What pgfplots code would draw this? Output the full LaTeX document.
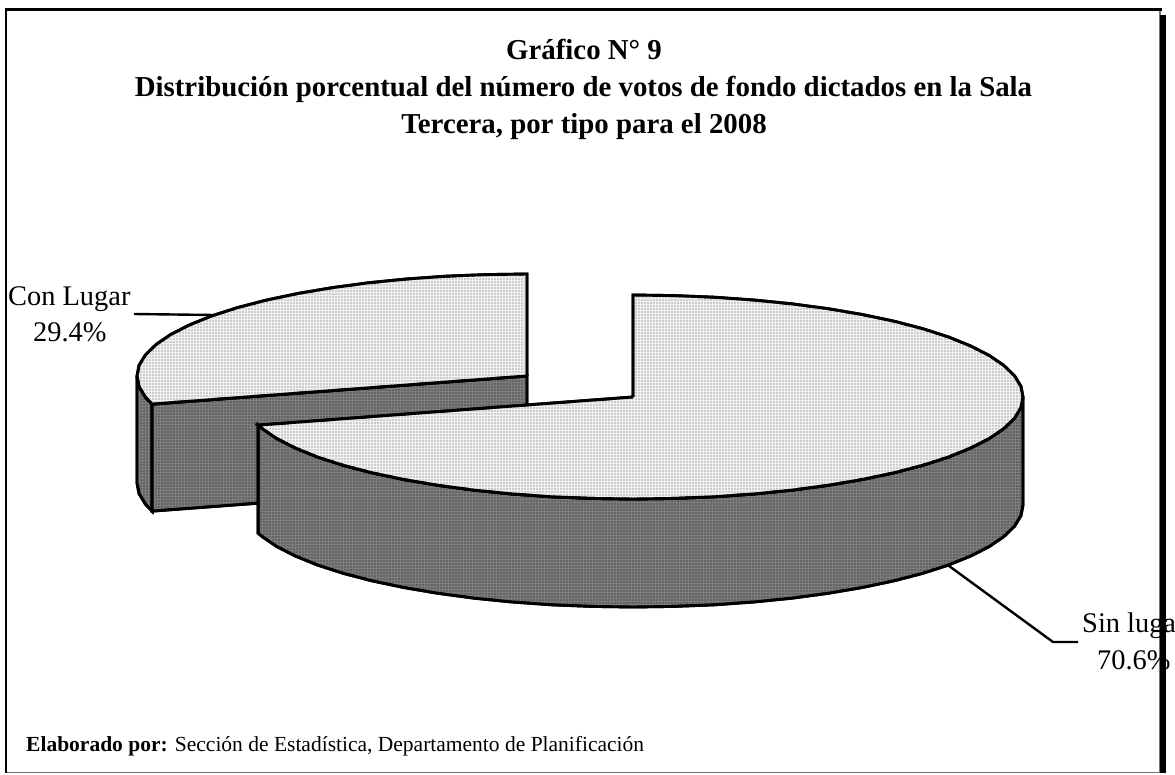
\documentclass[border=0pt]{standalone}
\usepackage{fontspec}
\setmainfont{Liberation Serif}
\usepackage{pgfplots}
\usetikzlibrary{patterns}
\pgfplotsset{compat=1.18}
\definecolor{topgray}{gray}{0.95}
\definecolor{topdots}{gray}{0.80}
\definecolor{wallgray}{gray}{0.49}
\definecolor{walldots}{gray}{0.39}
\definecolor{framegray}{gray}{0.45}
\pgfdeclarepatternformonly{halftone}{\pgfqpoint{-1pt}{-1pt}}{\pgfqpoint{1pt}{1pt}}{\pgfqpoint{3pt}{3pt}}{%
  \pgfpathrectangle{\pgfqpoint{-0.7pt}{-0.7pt}}{\pgfqpoint{1.4pt}{1.4pt}}\pgfusepath{fill}}
\tikzset{
  pie/.style={draw=black, line width=2.9pt},
  lead/.style={draw=black, line width=2.4pt},
  lab/.style={inner sep=0pt, text=black},
  top/.style={pie, fill=topgray, postaction={pattern=halftone, pattern color=topdots}},
  wall/.style={pie, fill=wallgray, postaction={pattern=halftone, pattern color=walldots}},
}

\begin{document}
\begin{tikzpicture}
  \path[use as bounding box,clip] (0,0) rectangle (1175pt,774pt);
  \begin{axis}[
    at={(0,0)}, anchor=south west,
    scale only axis,
    width=1175pt, height=774pt,
    xmin=0, xmax=1175,
    ymin=0, ymax=774,
    y dir=reverse,
    axis lines=none,
    clip=false,
    every axis plot/.append style={no markers},
  ]
    % frame of the page
    \addplot[draw=framegray, line width=1.3pt] coordinates {(6,772.7) (1160,772.7)};
    \addplot[draw=framegray, line width=1.5pt] coordinates {(1160,11) (1160,773)};
    \addplot[draw=black, line width=6pt] coordinates {(1163,15) (1163,773)};
    \addplot[draw=black, line width=3pt] coordinates {(5,9.7) (1162,9.7)};
    \addplot[draw=black, line width=2.4pt] coordinates {(6.2,8.5) (6.2,773)};

    % leader lines
    \addplot[lead] coordinates {(134,314) (215,315)};
    \addplot[lead] coordinates {(945,563) (1053,642) (1078,642)};

    % Con Lugar, 29.4%: outer wall, inner wall, top
    \addplot[wall] coordinates {
      (152.1,404.1) (145.5,397.2) (139.1,386.7) (137,376)
      (137,483) (139.1,493.7) (145.5,504.2) (152.1,511.1) (152.1,404.1)};
    \addplot[wall] coordinates {
      (152.1,404.1) (527,376) (527,483) (152.1,511.1) (152.1,404.1)};
    \addplot[top] coordinates {
      (527,376) (152.1,404.1) (145.5,397.2) (139.1,386.7) (137,376)
      (139.1,365.3) (145.5,354.8) (156.1,344.5) (170.7,334.5) (189.3,325)
      (211.5,316) (237.2,307.7) (266,300.2) (297.8,293.5) (332,287.7)
      (368.4,282.8) (406.5,279) (445.9,276.2) (486.2,274.6) (527,274) (527,376)};

    % Sin lugar, 70.6%: outer wall, top
    \addplot[wall] coordinates {
      (1023,397) (1020.9,407.7) (1014.5,418.2) (1003.9,428.5) (989.3,438.5)
      (970.7,448) (948.5,457) (922.8,465.3) (894,472.8) (862.2,479.5)
      (828,485.3) (791.6,490.2) (753.5,494) (714.1,496.8) (673.8,498.4)
      (633,499) (592.2,498.4) (551.9,496.8) (512.5,494) (474.4,490.2)
      (438,485.3) (403.8,479.5) (372,472.8) (343.2,465.3) (317.5,457)
      (295.3,448) (276.7,438.5) (262.1,428.5) (258.1,425.1)
      (258.1,533.1) (262.1,536.5) (276.7,546.5) (295.3,556) (317.5,565)
      (343.2,573.3) (372,580.8) (403.8,587.5) (438,593.3) (474.4,598.2)
      (512.5,602) (551.9,604.8) (592.2,606.4) (633,607) (673.8,606.4)
      (714.1,604.8) (753.5,602) (791.6,598.2) (828,593.3) (862.2,587.5)
      (894,580.8) (922.8,573.3) (948.5,565) (970.7,556) (989.3,546.5)
      (1003.9,536.5) (1014.5,526.2) (1020.9,515.7) (1023,505) (1023,397)};
    \addplot[top] coordinates {
      (633,397) (633,295) (673.8,295.6) (714.1,297.2) (753.5,300) (791.6,303.8)
      (828,308.7) (862.2,314.5) (894,321.2) (922.8,328.7) (948.5,337)
      (970.7,346) (989.3,355.5) (1003.9,365.5) (1014.5,375.8) (1020.9,386.3)
      (1023,397) (1020.9,407.7) (1014.5,418.2) (1003.9,428.5) (989.3,438.5)
      (970.7,448) (948.5,457) (922.8,465.3) (894,472.8) (862.2,479.5)
      (828,485.3) (791.6,490.2) (753.5,494) (714.1,496.8) (673.8,498.4)
      (633,499) (592.2,498.4) (551.9,496.8) (512.5,494) (474.4,490.2)
      (438,485.3) (403.8,479.5) (372,472.8) (343.2,465.3) (317.5,457)
      (295.3,448) (276.7,438.5) (262.1,428.5) (258.1,425.1) (633,397)};

    % title
    \node[lab, anchor=base] at (axis cs:584,59) {\fontsize{28.85}{32}\selectfont\bfseries Gráfico N° 9};
    \node[lab, anchor=base] at (axis cs:583.5,96) {\fontsize{28.85}{32}\selectfont\bfseries Distribución porcentual del número de votos de fondo dictados en la Sala};
    \node[lab, anchor=base] at (axis cs:584,133) {\fontsize{28.85}{32}\selectfont\bfseries Tercera, por tipo para el 2008};

    % slice labels
    \node[lab, anchor=base west] at (axis cs:8,305) {\fontsize{28.4}{32}\selectfont Con Lugar};
    \node[lab, anchor=base west] at (axis cs:33,341) {\fontsize{28.4}{32}\selectfont 29.4\%};
    \node[lab, anchor=base west] at (axis cs:1082,632) {\fontsize{28.4}{32}\selectfont Sin lugar};
    \node[lab, anchor=base west] at (axis cs:1097,669) {\fontsize{28.4}{32}\selectfont 70.6\%};

    % source
    \node[lab, anchor=base west] at (axis cs:26,751) {\fontsize{21.5}{24}\selectfont\textbf{Elaborado por:} Sección de Estadística, Departamento de Planificación};
  \end{axis}
\end{tikzpicture}
\end{document}
